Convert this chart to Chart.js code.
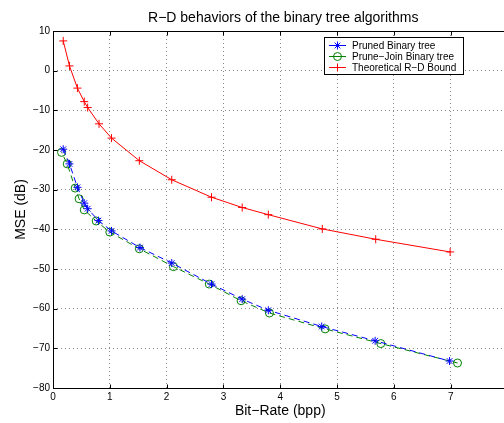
<!DOCTYPE html>
<html>
<head>
<meta charset="utf-8">
<script src="https://cdn.jsdelivr.net/npm/chart.js@4/dist/chart.umd.min.js"></script>
<style>
  html, body { margin: 0; padding: 0; overflow: hidden; background: #fff; }
  canvas { display: block; }
</style>
</head>
<body>
<canvas id="rdChart" width="520" height="423" style="width:520px;height:423px"></canvas>
<script>
// Bit-rate (bpp) / MSE (dB) pairs for each curve
const bitRatePruned = [0.18, 0.29, 0.43, 0.55, 0.61, 0.80, 1.03, 1.53, 2.09, 2.79, 3.33, 3.79, 4.73, 5.67, 6.98];
const msePruned     = [-19.8, -23.5, -29.4, -33.4, -34.8, -37.8, -40.4, -44.6, -48.5, -53.8, -57.6, -60.4, -64.5, -68.1, -73.2];

const bitRateJoin = [0.15, 0.25, 0.39, 0.46, 0.55, 0.76, 1.00, 1.52, 2.12, 2.75, 3.31, 3.81, 4.79, 5.77, 7.12];
const mseJoin     = [-20.6, -23.5, -29.6, -32.3, -35.1, -37.9, -40.7, -44.9, -49.4, -53.8, -58.0, -61.1, -65.1, -68.8, -73.7];

const bitRateBound = [0.18, 0.29, 0.43, 0.55, 0.61, 0.81, 1.03, 1.52, 2.09, 2.79, 3.33, 3.79, 4.74, 5.68, 6.99];
const mseBound     = [7.5, 1.2, -4.4, -7.8, -9.3, -13.4, -17.0, -22.7, -27.5, -31.9, -34.5, -36.3, -39.9, -42.5, -45.7];

const seriesNames = ['Pruned Binary tree', 'Prune\u2212Join Binary tree', 'Theoretical R\u2212D Bound'];
const chartTitle = 'R\u2212D behaviors of the binary tree algorithms';
const xTitle = 'Bit\u2212Rate (bpp)';
const yTitle = 'MSE (dB)';

const FONT = '"Liberation Sans", Arial, Helvetica, sans-serif';

function toPoints(xs, ys) {
    return xs.map((x, i) => ({ x: x, y: ys[i] }));
}

// minus sign like the original plot labels
function fmtTick(v) {
    return String(v).replace('-', '\u2212');
}

// box, inward ticks, title and legend drawn on top of the plot
const framePlugin = {
    id: 'frame',
    afterDraw(chart) {
        const ctx = chart.ctx;
        const a = chart.chartArea;
        const xs = chart.scales.x;
        const ys = chart.scales.y;
        ctx.save();
        ctx.strokeStyle = '#000';
        ctx.lineWidth = 1;
        ctx.setLineDash([]);
        const L = Math.round(a.left) + 0.5, R = Math.round(a.right) + 0.5;
        const T = Math.round(a.top) + 0.5, B = Math.round(a.bottom) + 0.5;
        ctx.strokeRect(L, T, R - L, B - T);

        ctx.beginPath();
        xs.ticks.forEach(t => {
            const px = Math.round(xs.getPixelForValue(t.value)) + 0.5;
            ctx.moveTo(px, B); ctx.lineTo(px, B - 4);
            ctx.moveTo(px, T); ctx.lineTo(px, T + 4);
        });
        ys.ticks.forEach(t => {
            const py = Math.round(ys.getPixelForValue(t.value)) + 0.5;
            ctx.moveTo(L, py); ctx.lineTo(L + 4, py);
            ctx.moveTo(R, py); ctx.lineTo(R - 4, py);
        });
        ctx.stroke();

        // title
        ctx.fillStyle = '#000';
        ctx.font = '14px ' + FONT;
        ctx.textAlign = 'center';
        ctx.textBaseline = 'middle';
        ctx.fillText(chartTitle, (a.left + a.right) / 2 + 3, 18.5);

        // legend
        const bx = 324.5, by = 37.5, bw = 139, bh = 37;
        ctx.fillStyle = '#fff';
        ctx.fillRect(bx, by, bw, bh);
        ctx.strokeStyle = '#000';
        ctx.strokeRect(bx, by, bw, bh);
        ctx.font = '10px ' + FONT;
        ctx.textAlign = 'left';
        chart.data.datasets.forEach((ds, i) => {
            const ry = 45.5 + i * 11;
            ctx.strokeStyle = ds.borderColor;
            ctx.lineWidth = 1;
            ctx.setLineDash([]);
            ctx.beginPath();
            ctx.moveTo(329, ry); ctx.lineTo(346, ry);
            ctx.stroke();
            ctx.fillStyle = 'rgba(0,0,0,0)';
            ctx.strokeStyle = ds.borderColor;
            Chart.helpers.drawPoint(ctx, {
                pointStyle: ds.pointStyle,
                radius: ds.pointRadius,
                borderWidth: 1,
                rotation: 0
            }, 337.5, ry);
            ctx.fillStyle = '#000';
            ctx.fillText(ds.label, 352, ry + 0.5);
        });
        ctx.restore();
    }
};

const ctx = document.getElementById('rdChart').getContext('2d');

const rdChart = new Chart(ctx, {
    type: 'line',
    data: {
        datasets: [{
            label: seriesNames[0],
            data: toPoints(bitRatePruned, msePruned),
            borderColor: '#0000ff',
            backgroundColor: 'rgba(0,0,0,0)',
            borderWidth: 1,
            borderDash: [6, 4],
            pointStyle: 'star',
            pointRadius: 4,
            pointBorderWidth: 1,
            pointBorderColor: '#0000ff',
            fill: false
        }, {
            label: seriesNames[1],
            data: toPoints(bitRateJoin, mseJoin),
            borderColor: '#008000',
            backgroundColor: 'rgba(0,0,0,0)',
            borderWidth: 1,
            borderDash: [6, 4],
            borderDashOffset: 5,
            pointStyle: 'circle',
            pointRadius: 4,
            pointBorderWidth: 1,
            pointBorderColor: '#008000',
            pointBackgroundColor: 'rgba(0,0,0,0)',
            fill: false
        }, {
            label: seriesNames[2],
            data: toPoints(bitRateBound, mseBound),
            borderColor: '#ff0000',
            backgroundColor: 'rgba(0,0,0,0)',
            borderWidth: 1,
            pointStyle: 'cross',
            pointRadius: 4,
            pointBorderWidth: 1,
            pointBorderColor: '#ff0000',
            fill: false
        }]
    },
    options: {
        responsive: false,
        devicePixelRatio: 1,
        animation: false,
        layout: { padding: { top: 31, right: 12.5, left: 0, bottom: 0 } },
        plugins: {
            legend: { display: false },
            tooltip: { enabled: false },
            title: { display: false }
        },
        scales: {
            x: {
                type: 'linear',
                min: 0,
                max: 8,
                ticks: {
                    stepSize: 1,
                    padding: 3,
                    color: '#000',
                    font: { family: FONT, size: 10 },
                    maxRotation: 0,
                    callback: fmtTick
                },
                grid: { color: '#8a8a8a', lineWidth: 1, drawTicks: false },
                border: { display: false, dash: [1, 3] },
                title: {
                    display: true,
                    text: xTitle,
                    color: '#000',
                    font: { family: FONT, size: 14 },
                    padding: { top: 0, bottom: 3.6 }
                },
                afterFit(scale) { scale.height = 35; }
            },
            y: {
                type: 'linear',
                min: -80,
                max: 10,
                ticks: {
                    stepSize: 10,
                    padding: 3,
                    color: '#000',
                    font: { family: FONT, size: 10 },
                    callback: fmtTick
                },
                grid: { color: '#8a8a8a', lineWidth: 1, drawTicks: false },
                border: { display: false, dash: [1, 3] },
                title: {
                    display: true,
                    text: yTitle,
                    color: '#000',
                    font: { family: FONT, size: 14 },
                    padding: { top: 12.6, bottom: 0 }
                },
                afterFit(scale) { scale.width = 53; }
            }
        }
    },
    plugins: [framePlugin]
});
</script>
</body>
</html>
